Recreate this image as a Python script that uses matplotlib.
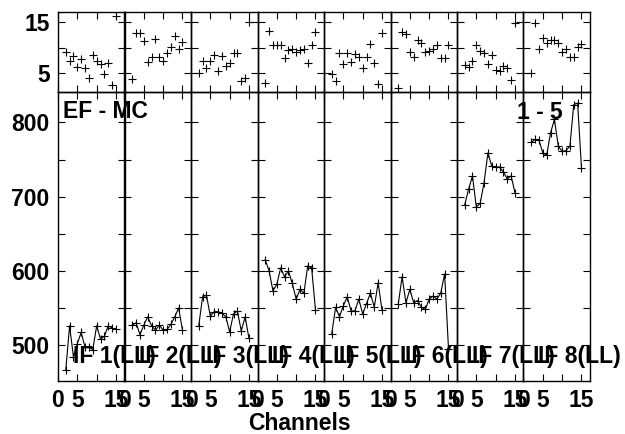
import matplotlib
matplotlib.use('Agg')
import matplotlib.pyplot as plt
import numpy as np

plt.rcParams['font.family'] = ['Liberation Sans', 'DejaVu Sans']
plt.rcParams['font.weight'] = 'bold'
plt.rcParams['font.size'] = 16.5

channels = np.arange(2, 16)

# small upper panels (one list per IF)
top_vals = [
    [9.1, 7.4, 8.3, 6.3, 7.7, 6.0, 4.2, 8.5, 7.4, 6.9, 4.9, 7.1, 2.7, 16.2],
    [4.0, 12.9, 12.9, 11.3, 7.3, 8.2, 11.6, 8.1, 7.5, 8.9, 10.2, 12.2, 9.7, 11.0],
    [5.0, 7.4, 6.0, 7.4, 8.6, 5.4, 8.4, 6.5, 7.1, 8.9, 8.9, 3.5, 4.2, 15.0],
    [3.2, 13.2, 10.6, 10.6, 10.6, 7.9, 9.5, 9.7, 9.2, 9.5, 9.7, 7.1, 10.5, 13.1],
    [4.9, 3.6, 8.9, 6.9, 9.0, 7.3, 8.7, 8.2, 6.0, 8.1, 10.7, 7.1, 2.9, 12.9],
    [2.1, 13.1, 12.6, 9.2, 8.1, 11.5, 10.9, 9.2, 9.4, 9.8, 10.5, 8.0, 7.9, 10.6],
    [6.6, 6.3, 7.5, 10.5, 9.4, 9.0, 6.9, 8.6, 5.6, 5.4, 6.4, 6.0, 3.8, 14.7],
    [5.1, 14.7, 9.8, 11.8, 10.8, 11.5, 11.5, 10.9, 9.2, 9.7, 8.2, 8.1, 10.2, 10.7],
]

# large lower panels
bot_vals = [
    [466, 526, 484, 502, 517, 497, 497, 494, 526, 508, 512, 526, 523, 521],
    [527, 530, 514, 527, 538, 526, 520, 527, 520, 521, 528, 538, 550, 520],
    [526, 565, 567, 539, 545, 545, 543, 538, 518, 542, 546, 519, 538, 509],
    [615, 600, 573, 582, 604, 592, 600, 583, 562, 575, 570, 607, 604, 547],
    [515, 551, 538, 553, 565, 546, 546, 562, 542, 556, 570, 551, 584, 547],
    [555, 592, 557, 575, 557, 560, 551, 548, 562, 566, 562, 570, 596, 495],
    [689, 710, 728, 686, 691, 719, 759, 741, 740, 740, 733, 724, 728, 705],
    [773, 777, 776, 759, 756, 786, 804, 768, 761, 762, 768, 824, 826, 738],
]

if_labels = ['IF 1(LL)', 'IF 2(LL)', 'IF 3(LL)', 'IF 4(LL)',
             'IF 5(LL)', 'IF 6(LL)', 'IF 7(LL)', 'IF 8(LL)']

fig = plt.figure(figsize=(6.25, 4.34), dpi=100)

left = 58 / 625
w = 66.5 / 625
top_b, top_h = 1 - 92 / 434, 80 / 434
bot_b, bot_h = 1 - 380.7 / 434, 288.7 / 434

for i in range(8):
    axt = fig.add_axes([left + i * w, top_b, w, top_h])
    axb = fig.add_axes([left + i * w, bot_b, w, bot_h])
    for ax in (axt, axb):
        ax.patch.set_visible(False)
        for s in ax.spines.values():
            s.set_linewidth(1.0)
        ax.set_xlim(0, 17.2)
        ax.set_xticks([0, 5, 10, 15])
        ax.tick_params(direction='in', top=True, right=True, length=5,
                       width=0.8, pad=6)

    axt.plot(channels, top_vals[i], '+', color='k', ms=6, mew=0.8)
    axt.set_ylim(1.4, 16.9)
    axt.set_yticks([5, 10, 15])
    axt.set_xticklabels([])

    axb.plot(channels, bot_vals[i], '-+', color='k', ms=6, mew=0.8, lw=0.8)
    axb.set_ylim(452, 841)
    axb.set_yticks([500, 550, 600, 650, 700, 750, 800])
    axb.set_xticklabels(['0', '5', '', '15'])
    axb.text(3.8, 484, if_labels[i], va='center', ha='left')

    if i == 0:
        axt.set_yticklabels(['5', '', '15'])
        axb.set_yticklabels(['500', '', '600', '', '700', '', '800'])
    else:
        axt.set_yticklabels([])
        axb.set_yticklabels([])

fig.text(63 / 625, 1 - 112 / 434, 'EF - MC', va='center', ha='left')
fig.text(517 / 625, 1 - 112.7 / 434, '1 - 5', va='center', ha='left')
fig.text(299 / 625, 1 - 423 / 434, 'Channels', va='center', ha='center')

plt.savefig('out.png', dpi=100)
plt.close()
